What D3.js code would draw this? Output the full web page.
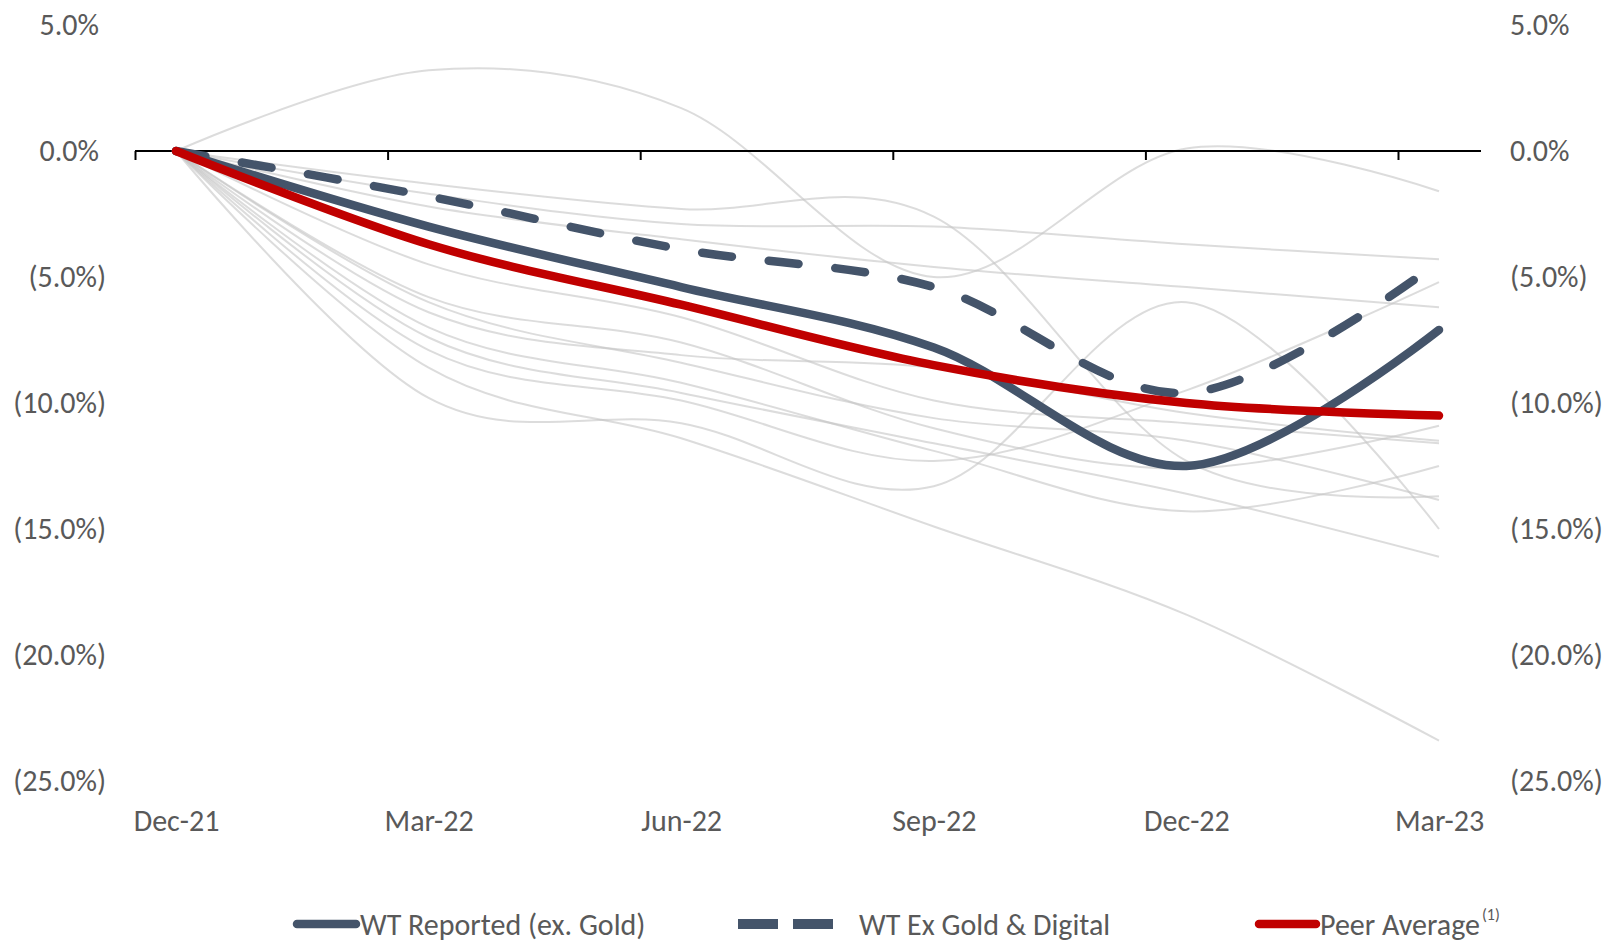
<!DOCTYPE html>
<html>
<head>
<meta charset="utf-8">
<script src="https://cdn.jsdelivr.net/npm/d3@7"></script>
<style>
  html, body { margin: 0; padding: 0; background: #fff; }
  svg { display: block; }
</style>
</head>
<body>
<div id="chart"></div>
<script>
// data
const months = [`Dec-21`, `Mar-22`, `Jun-22`, `Sep-22`, `Dec-22`, `Mar-23`];
const yTicks = [5, 0, -5, -10, -15, -20, -25];

const wtReported = [0, -3.0, -5.4, -7.8, -12.5, -7.1];
const wtExGoldDigital = [0, -1.8, -3.9, -5.4, -9.6, -4.4];
const peerAverage = [0, -3.7, -6.1, -8.5, -10.0, -10.5];

// individual peers (grey)
const peer1 = [0, 3.2, 1.7, -5.0, 0.1, -1.6];
const peer2 = [0, -1.3, -2.3, -2.6, -12.3, -13.7];
const peer3 = [0, -1.7, -2.9, -3.0, -3.7, -4.3];
const peer4 = [0, -2.2, -3.5, -4.6, -5.4, -6.2];
const peer5 = [0, -6.4, -8.1, -8.6, -10.4, -11.5];
const peer6 = [0, -4.5, -6.6, -9.9, -10.8, -11.6];
const peer7 = [0, -6.0, -8.4, -10.6, -11.5, -13.85];
const peer8 = [0, -5.8, -7.6, -11.0, -12.6, -10.9];
const peer9 = [0, -7.0, -9.2, -11.9, -14.3, -12.5];
const peer10 = [0, -7.4, -9.6, -11.6, -13.6, -16.1];
const peer11 = [0, -7.9, -9.9, -12.3, -9.5, -5.2];
const peer12 = [0, -9.8, -10.8, -13.3, -6.0, -15.0];
const peer13 = [0, -8.6, -11.4, -14.9, -18.4, -23.4];
const peers = [peer1, peer2, peer3, peer4, peer5, peer6, peer7, peer8, peer9, peer10, peer11, peer12, peer13];

// constants
const width = 1604;
const height = 941;
const fontFamily = `Carlito, Calibri, Lato, sans-serif`;
const fontSize = `30px`;
const fontColor = `#595959`;
const slate = `#44546A`;
const red = `#C00000`;
const mainWidth = 8.5;

const xScale = d3.scalePoint().domain(months).range([176, 1439]);
const tickScale = xScale.copy().range([135, 1398]);
const yScale = d3.scaleLinear().domain([-25, 5]).range([781, 25]);

const fmt = v => v < 0 ? `(${Math.abs(v).toFixed(1)}%)` : `${v.toFixed(1)}%`;

const svg = d3.select(`#chart`).append(`svg`)
    .attr(`width`, width)
    .attr(`height`, height);

const line = d3.line()
    .x((d, i) => xScale(months[i]))
    .y(d => yScale(d))
    .curve(d3.curveCardinal);

// grey peer lines
svg.append(`g`).selectAll(`path`)
    .data(peers)
    .join(`path`)
    .attr(`d`, line)
    .attr(`fill`, `none`)
    .attr(`stroke`, `#c4c4c4`)
    .attr(`stroke-opacity`, 0.6)
    .attr(`stroke-width`, 2);

// x axis at zero
const y0 = yScale(0);
const xAxis = svg.append(`g`)
    .attr(`transform`, `translate(0, ${y0})`)
    .call(d3.axisBottom(tickScale).tickSize(9).tickFormat(``));
xAxis.select(`.domain`).remove();
xAxis.selectAll(`.tick line`).attr(`stroke`, `#000`).attr(`stroke-width`, 2);
xAxis.append(`line`)
    .attr(`x1`, tickScale(months[0]))
    .attr(`x2`, xScale(months[months.length - 1]) + 42)
    .attr(`stroke`, `#000`)
    .attr(`stroke-width`, 2);

// x labels
const xLabels = svg.append(`g`)
    .attr(`transform`, `translate(0, 810)`)
    .call(d3.axisBottom(xScale).tickSize(0).tickPadding(0));
xLabels.select(`.domain`).remove();
xLabels.selectAll(`text`)
    .attr(`dy`, `0.35em`)
    .attr(`y`, 10)
    .style(`font-family`, fontFamily)
    .style(`font-size`, fontSize)
    .attr(`fill`, fontColor);

// y labels left & right
const leftAxis = svg.append(`g`)
    .attr(`transform`, `translate(106, 0)`)
    .call(d3.axisLeft(yScale).tickValues(yTicks).tickFormat(fmt).tickSize(0).tickPadding(0));
leftAxis.select(`.domain`).remove();
leftAxis.selectAll(`text`)
    .attr(`x`, d => d < 0 ? 0 : -7)
    .style(`font-family`, fontFamily)
    .style(`font-size`, fontSize)
    .attr(`fill`, fontColor);

const rightAxis = svg.append(`g`)
    .attr(`transform`, `translate(1510, 0)`)
    .call(d3.axisRight(yScale).tickValues(yTicks).tickFormat(fmt).tickSize(0).tickPadding(0));
rightAxis.select(`.domain`).remove();
rightAxis.selectAll(`text`)
    .style(`font-family`, fontFamily)
    .style(`font-size`, fontSize)
    .attr(`fill`, fontColor);

// main series
svg.append(`path`)
    .attr(`d`, line(wtReported))
    .attr(`fill`, `none`)
    .attr(`stroke`, slate)
    .attr(`stroke-width`, mainWidth)
    .attr(`stroke-linecap`, `round`);

svg.append(`path`)
    .attr(`d`, line(wtExGoldDigital))
    .attr(`fill`, `none`)
    .attr(`stroke`, slate)
    .attr(`stroke-width`, mainWidth)
    .attr(`stroke-linecap`, `round`)
    .attr(`stroke-dasharray`, `30 37`);

svg.append(`path`)
    .attr(`d`, line(peerAverage))
    .attr(`fill`, `none`)
    .attr(`stroke`, red)
    .attr(`stroke-width`, mainWidth)
    .attr(`stroke-linecap`, `round`);

// legend
const legY = 922;
const legend = svg.append(`g`);

legend.append(`line`)
    .attr(`x1`, 297).attr(`x2`, 356)
    .attr(`y1`, legY + 2).attr(`y2`, legY + 2)
    .attr(`stroke`, slate).attr(`stroke-width`, mainWidth)
    .attr(`stroke-linecap`, `round`);
legend.append(`text`)
    .attr(`x`, 360).attr(`y`, legY + 2)
    .attr(`dy`, `0.35em`)
    .style(`font-family`, fontFamily).style(`font-size`, fontSize)
    .attr(`fill`, fontColor)
    .text(`WT Reported (ex. Gold)`);

legend.append(`rect`)
    .attr(`x`, 738).attr(`y`, legY - 3)
    .attr(`width`, 40).attr(`height`, 10)
    .attr(`fill`, slate);
legend.append(`rect`)
    .attr(`x`, 793).attr(`y`, legY - 3)
    .attr(`width`, 40).attr(`height`, 10)
    .attr(`fill`, slate);
legend.append(`text`)
    .attr(`x`, 859).attr(`y`, legY + 2)
    .attr(`dy`, `0.35em`)
    .style(`font-family`, fontFamily).style(`font-size`, fontSize)
    .attr(`fill`, fontColor)
    .text(`WT Ex Gold & Digital`);

legend.append(`line`)
    .attr(`x1`, 1259).attr(`x2`, 1316)
    .attr(`y1`, legY + 2).attr(`y2`, legY + 2)
    .attr(`stroke`, red).attr(`stroke-width`, mainWidth)
    .attr(`stroke-linecap`, `round`);
const peerText = legend.append(`text`)
    .attr(`x`, 1320).attr(`y`, legY + 2)
    .attr(`dy`, `0.35em`)
    .style(`font-family`, fontFamily).style(`font-size`, fontSize)
    .attr(`fill`, fontColor);
peerText.append(`tspan`).text(`Peer Average`);
peerText.append(`tspan`)
    .attr(`dy`, `-0.9em`)
    .attr(`dx`, `2`)
    .style(`font-size`, `16px`)
    .text(`(1)`);
</script>
</body>
</html>
